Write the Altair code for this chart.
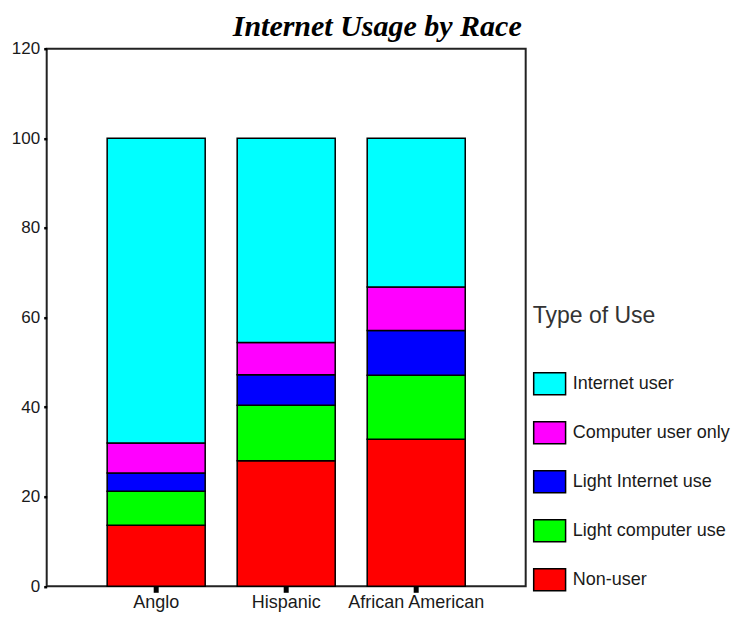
import altair as alt
import pandas as pd

races = ["Anglo", "Hispanic", "African American"]
use_types = ["Internet user", "Computer user only", "Light Internet use",
             "Light computer use", "Non-user"]
colors = ["#00FFFF", "#FF00FF", "#0000FF", "#00FF00", "#FF0000"]

non_user = [13.6, 28.0, 32.8]
light_computer = [7.6, 12.4, 14.3]
light_internet = [4.1, 6.8, 10.0]
computer_only = [6.7, 7.2, 9.7]
internet_user = [68.0, 45.6, 33.2]

y_ticks = [0, 20, 40, 60, 80, 100, 120]

series = [
    ("Non-user", non_user),
    ("Light computer use", light_computer),
    ("Light Internet use", light_internet),
    ("Computer user only", computer_only),
    ("Internet user", internet_user),
]

rows = []
for k, (name, vals) in enumerate(series):
    for r, v in zip(races, vals):
        rows.append({"Race": r, "Type": name, "Percent": v, "order": k})
df = pd.DataFrame(rows)

FONT = "Liberation Sans"

chart = alt.Chart(df).mark_bar(stroke="black", strokeWidth=1.5).encode(
    x=alt.X("Race:N", sort=races,
            scale=alt.Scale(paddingInner=0.246, paddingOuter=0.465),
            axis=alt.Axis(title=None, labelAngle=0, labelFontSize=18,
                          labelFont=FONT, labelColor="#1a1a1a",
                          tickSize=6, tickWidth=5, tickColor="black",
                          domain=False, labelPadding=1)),
    y=alt.Y("Percent:Q", stack="zero",
            scale=alt.Scale(domain=[0, 120], nice=False),
            axis=alt.Axis(values=y_ticks, title=None, grid=False,
                          labelFontSize=17, labelFont=FONT, labelColor="#1a1a1a",
                          tickSize=3, tickWidth=2.5, tickColor="black",
                          domain=False, labelPadding=4)),
    color=alt.Color("Type:N",
                    scale=alt.Scale(domain=use_types, range=colors),
                    legend=alt.Legend(
                        title="Type of Use", orient="none",
                        legendX=486, legendY=256, padding=0,
                        titleFont=FONT, titleFontSize=23, titleFontWeight="normal",
                        titleColor="#333333", titleBaseline="top", titlePadding=44,
                        labelFont=FONT, labelFontSize=18, labelColor="#1a1a1a",
                        symbolType="M-1,-1L1.9,-1L1.9,1L-1,1Z",
                        symbolSize=484, symbolStrokeColor="black",
                        symbolStrokeWidth=1.5, symbolOpacity=1,
                        rowPadding=21, labelOffset=16)),
    order=alt.Order("order:Q", sort="ascending"),
).properties(
    width=479, height=537.6,
    padding={"left": 38.7, "top": 40.7, "right": 209, "bottom": 25.5},
    autosize=alt.AutoSizeParams(type="none"),
    title=alt.TitleParams("Internet Usage by Race", font="Liberation Serif",
                          fontSize=30, fontWeight="bold", fontStyle="italic",
                          color="black", anchor="middle", frame="group",
                          dx=91, dy=38, offset=12, baseline="alphabetic"),
).configure_view(stroke="#222222", strokeWidth=2)

chart.save("out.html", embed_options={"renderer": "svg", "actions": False})
